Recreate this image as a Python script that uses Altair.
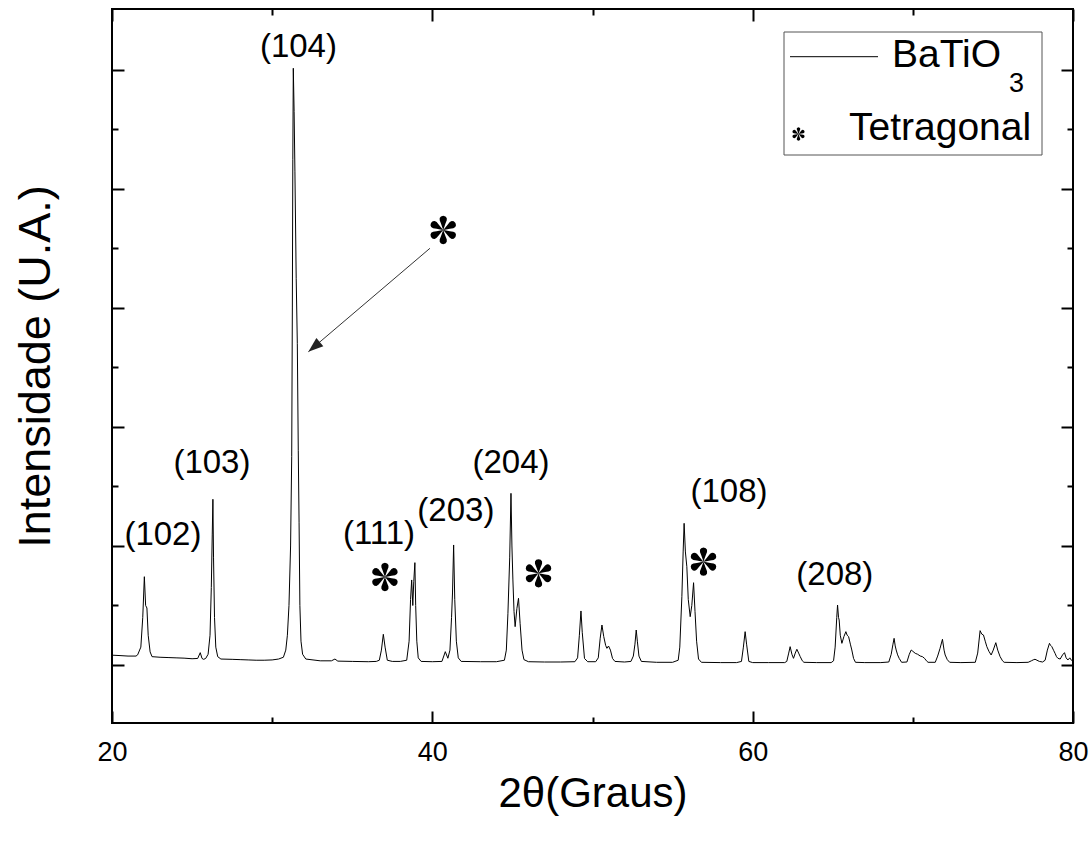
import math
import altair as alt
import pandas as pd

# ---------------- data ----------------
two_theta = [
    20.0, 20.5, 21.0, 21.5, 21.6, 21.8, 21.92, 22.02, 22.1, 22.18, 22.26, 22.38, 22.5,
    23.0, 23.5, 24.0, 24.5, 25.0, 25.35, 25.51, 25.62, 25.72, 25.85,
    26.0, 26.12, 26.2, 26.26, 26.30, 26.34, 26.4, 26.48, 26.6, 26.8,
    27.5, 28.0, 28.5, 29.0, 29.5, 30.0, 30.4, 30.7, 30.85, 30.95, 31.05, 31.15, 31.22,
    31.26, 31.29, 31.32, 31.37, 31.42, 31.5, 31.57, 31.63, 31.68, 31.73, 31.8, 31.9, 32.1,
    33.0, 33.7, 33.92, 34.1, 35.0, 36.0, 36.5,
    36.69, 36.82, 36.94, 37.05, 37.19, 37.5, 38.0,
    38.4, 38.55, 38.64, 38.71, 38.78, 38.84, 38.91, 38.96, 39.03, 39.12, 39.3,
    40.0, 40.6, 40.81, 40.97, 41.1, 41.2, 41.26, 41.33, 41.4, 41.5, 41.62, 41.8,
    43.0, 44.0, 44.5, 44.62, 44.72, 44.83, 44.91, 44.97, 45.03, 45.1, 45.17, 45.28,
    45.38, 45.48, 45.6, 45.72, 46.0,
    47.0, 48.0, 48.9, 49.07, 49.18, 49.28, 49.36, 49.5, 49.7,
    50.2, 50.36, 50.48, 50.59, 50.7, 50.82, 50.9, 51.0, 51.12, 51.25, 51.4,
    52.0, 52.4, 52.55, 52.65, 52.73, 52.8, 52.9, 53.05,
    54.0, 55.0, 55.35, 55.45, 55.58, 55.66, 55.72, 55.8, 55.89, 55.98, 56.10, 56.2,
    56.31, 56.4, 56.5, 56.62, 56.8,
    58.0, 59.0, 59.3, 59.42, 59.53, 59.62, 59.76, 60.0,
    61.0, 62.0, 62.13, 62.25, 62.34, 62.45, 62.55, 62.66, 62.76, 62.87, 62.97, 63.1, 63.2,
    64.0, 64.9, 65.05, 65.15, 65.25, 65.30, 65.36, 65.40, 65.47, 65.57, 65.7, 65.82,
    65.9, 65.99, 66.1, 66.19, 66.3, 66.42,
    67.0, 68.0, 68.5, 68.65, 68.76, 68.83, 68.9, 68.96, 69.05, 69.15, 69.3,
    69.63, 69.78, 69.90, 70.0, 70.15, 70.3, 70.46, 70.6, 70.73, 70.85, 70.95,
    71.4, 71.55, 71.70, 71.85, 71.95, 72.02, 72.15, 72.3,
    73.0, 73.9, 74.05, 74.2, 74.3, 74.41, 74.52, 74.62, 74.75, 74.89, 75.02, 75.18,
    75.3, 75.45, 75.6, 75.7,
    76.5, 77.2, 77.4, 77.55, 77.63, 77.75, 77.9, 78.1, 78.26, 78.4, 78.53, 78.6, 78.68,
    78.8, 78.88, 78.97, 79.06, 79.2, 79.35, 79.47, 79.57, 79.68, 79.8, 79.9, 80.0,
]
intensity = [
    165, 158, 150, 150, 170, 300, 800, 1484, 1000, 958, 500, 220, 140,
    130, 125, 120, 115, 105, 110, 207, 110, 95, 110,
    180, 500, 1300, 2200, 2785, 1800, 800, 300, 140, 100,
    95, 90, 85, 80, 80, 85, 100, 130, 250, 500, 1000, 2000, 3500,
    6000, 8500, 10029, 9300, 8300, 6500, 5400, 3600, 2400, 1000, 400, 180, 100,
    70, 70, 100, 65, 60, 55, 60,
    80, 250, 516, 300, 80, 60, 60,
    80, 400, 1100, 1429, 1000, 1400, 1720, 1000, 400, 120, 60,
    55, 60, 224, 113, 250, 800, 1210, 2017, 1100, 400, 120, 60,
    55, 55, 80, 250, 869, 1800, 2885, 2000, 1429, 900, 644, 950,
    1121, 700, 250, 90, 55,
    50, 50, 55, 120, 500, 908, 550, 110, 55,
    55, 120, 450, 672, 480, 330, 280, 319, 250, 110, 60,
    50, 60, 150, 350, 588, 400, 150, 60,
    45, 45, 80, 300, 1148, 1900, 2381, 1900, 1652, 1100, 812, 1000,
    1383, 900, 400, 100, 45,
    40, 40, 60, 300, 560, 350, 60, 40,
    40, 40, 60, 200, 308, 180, 112, 200, 264, 200, 140, 70, 45,
    40, 40, 70, 300, 800, 1008, 800, 756, 500, 364, 480, 560,
    500, 476, 350, 252, 110, 45,
    40, 40, 50, 180, 350, 448, 320, 252, 170, 110, 45,
    50, 180, 252, 230, 196, 180, 151, 140, 112, 70, 45,
    45, 150, 280, 432, 250, 168, 90, 45,
    40, 45, 200, 577, 520, 504, 400, 308, 230, 168, 250, 375,
    250, 140, 70, 45,
    40, 45, 70, 90, 96, 80, 60, 50, 80, 250, 364, 330, 308,
    240, 196, 140, 112, 100, 170, 207, 120, 84, 120, 80, 60,
]

peak_labels = ["(102)", "(103)", "(104)", "(111)", "(203)", "(204)", "(108)", "(208)"]
peak_label_x = [23.18, 26.24, 31.64, 36.67, 41.47, 44.91, 58.52, 65.13]
peak_label_y = [2185, 3395, 10387, 2202, 2588, 3395, 2908, 1513]

star_x = [37.04, 46.63, 56.93, 40.68]
star_y = [1479, 1541, 1736, 7311]

arrow_x = [39.85, 32.26]
arrow_y = [7003, 5265]

x_major = [20, 40, 60, 80]
x_minor = [30, 50, 70]
y_major = [0, 2000, 4000, 6000, 8000, 10000]
y_minor = [1000, 3000, 5000, 7000, 9000]

legend_texts = ["BaTiO", "3", "Tetragonal"]

# ---------------- asterisk glyph (6 teardrop petals) as a symbol path ----------------
PETAL = [(0.0, 0.0), (0.2, 0.07), (0.45, 0.16), (0.68, 0.25), (0.84, 0.25),
         (0.95, 0.16), (1.0, 0.0), (0.95, -0.16), (0.84, -0.25), (0.68, -0.25),
         (0.45, -0.16), (0.2, -0.07)]


def asterisk_path():
    parts = []
    for k in range(6):
        a = math.radians(60 * k)
        dx, dy = math.sin(a), -math.cos(a)
        px, py = math.cos(a), math.sin(a)
        pts = [(u * dx + v * px, u * dy + v * py) for u, v in PETAL]
        parts.append("M" + "L".join(f"{x:.3f},{y:.3f}" for x, y in pts) + "Z")
    return "".join(parts)


STAR = asterisk_path()

# ---------------- chart ----------------
FONT = "Liberation Sans"
xs = alt.Scale(domain=[20, 80], nice=False, zero=False)
ys = alt.Scale(domain=[-975, 11025], nice=False, zero=False)

df = pd.DataFrame({"t": two_theta, "I": intensity})
base = alt.Chart(df)

common = dict(domain=False, grid=False, tickColor="black", tickWidth=2)


def axis_layer(x_axis, y_axis, op):
    return base.mark_line(color="black", strokeWidth=1, opacity=op).encode(
        x=alt.X("t:Q", scale=xs, axis=x_axis),
        y=alt.Y("I:Q", scale=ys, axis=y_axis),
    )


main = axis_layer(
    alt.Axis(orient="bottom", values=x_major, tickSize=12, offset=-12,
             labelPadding=16, labelFontSize=27, labelFont=FONT, labelColor="black",
             labelFlush=False,
             title="2θ(Graus)", titleFont=FONT, titleFontSize=42, titleFontWeight="normal",
             titleColor="black", titlePadding=8, **common),
    alt.Axis(orient="left", values=y_major, tickSize=12, offset=-12, labels=False,
             title="Intensidade (U.A.)", titleFont=FONT, titleFontSize=45,
             titleFontWeight="normal", titleColor="black", titlePadding=53, **common),
    1,
)
minor_bl = axis_layer(
    alt.Axis(orient="bottom", values=x_minor, tickSize=6, offset=-6, labels=False,
             title=None, **common),
    alt.Axis(orient="left", values=y_minor, tickSize=6, offset=-6, labels=False,
             title=None, **common),
    0,
)
major_tr = axis_layer(
    alt.Axis(orient="top", values=x_major, tickSize=12, offset=-12, labels=False,
             title=None, **common),
    alt.Axis(orient="right", values=y_major, tickSize=12, offset=-12, labels=False,
             title=None, **common),
    0,
)
minor_tr = axis_layer(
    alt.Axis(orient="top", values=x_minor, tickSize=6, offset=-6, labels=False,
             title=None, **common),
    alt.Axis(orient="right", values=y_minor, tickSize=6, offset=-6, labels=False,
             title=None, **common),
    0,
)

lab_df = pd.DataFrame({"lx": peak_label_x, "ly": peak_label_y, "txt": peak_labels})
labels = alt.Chart(lab_df).mark_text(
    font=FONT, fontSize=33, color="black", align="center", baseline="middle"
).encode(
    x=alt.X("lx:Q", scale=xs, axis=None),
    y=alt.Y("ly:Q", scale=ys, axis=None),
    text="txt:N",
)

star_df = pd.DataFrame({"sx": star_x, "sy": star_y})
stars = alt.Chart(star_df).mark_point(
    shape=STAR, filled=True, color="black", opacity=1, size=800, strokeWidth=0,
).encode(
    x=alt.X("sx:Q", scale=xs, axis=None),
    y=alt.Y("sy:Q", scale=ys, axis=None),
)

arr_df = pd.DataFrame({"ax": arrow_x, "ay": arrow_y})
arrow_line = alt.Chart(arr_df).mark_line(color="#333333", strokeWidth=1).encode(
    x=alt.X("ax:Q", scale=xs, axis=None),
    y=alt.Y("ay:Q", scale=ys, axis=None),
)
tip_df = pd.DataFrame({"ax": arrow_x[1:], "ay": arrow_y[1:]})
arrow_head = alt.Chart(tip_df).mark_point(
    shape="M0,0L-0.36,1L0.36,1Z", filled=True, color="#222222", opacity=1,
    size=900, angle=230, strokeWidth=0,
).encode(
    x=alt.X("ax:Q", scale=xs, axis=None),
    y=alt.Y("ay:Q", scale=ys, axis=None),
)

one = alt.Chart(pd.DataFrame({"k": [0]}))
leg_box = one.mark_rect(fill="white", stroke="#555555", strokeWidth=1).encode(
    x=alt.value(672), x2=alt.value(930), y=alt.value(23), y2=alt.value(146)
)
leg_line = one.mark_rule(color="black", strokeWidth=1).encode(
    x=alt.value(678), x2=alt.value(766), y=alt.value(47.7)
)
leg_t1 = one.mark_text(text=legend_texts[0], font=FONT, fontSize=39, align="left",
                       baseline="alphabetic", color="black").encode(
    x=alt.value(780), y=alt.value(58))
leg_t1s = one.mark_text(text=legend_texts[1], font=FONT, fontSize=27, align="left",
                        baseline="alphabetic", color="black").encode(
    x=alt.value(897), y=alt.value(83))
leg_t2 = one.mark_text(text=legend_texts[2], font=FONT, fontSize=39, align="left",
                       baseline="alphabetic", color="black").encode(
    x=alt.value(737), y=alt.value(131))
leg_star = one.mark_point(
    shape=STAR, filled=True, color="black", opacity=1, size=180, strokeWidth=0,
).encode(x=alt.value(686.5), y=alt.value(125))

chart = alt.layer(
    main, minor_bl, major_tr, minor_tr,
    labels, stars, arrow_line, arrow_head,
    leg_box, leg_line, leg_t1, leg_t1s, leg_t2, leg_star,
).resolve_axis(
    x="independent", y="independent"
).properties(
    width=961, height=714,
    autosize=alt.AutoSizeParams(type="none"),
    padding={"left": 112, "top": 9, "right": 19, "bottom": 125},
).configure_view(stroke="black", strokeWidth=2)

chart.save("out.html", embed_options={"renderer": "svg", "actions": False})
